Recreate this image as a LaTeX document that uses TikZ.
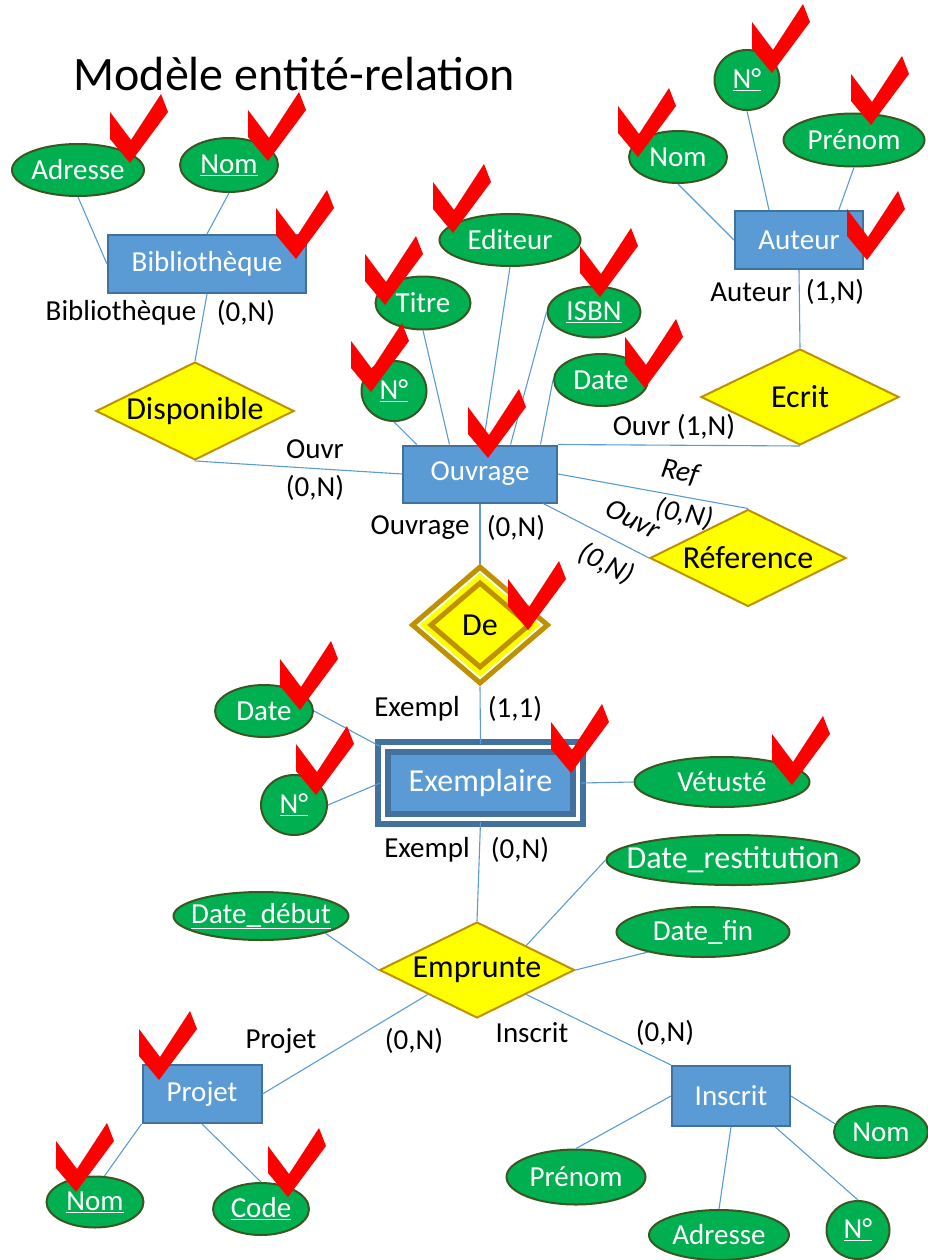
\documentclass[tikz,border=0pt]{standalone}
\usepackage{fontspec}
\setmainfont{Carlito}
\usepackage{tikz}
\usetikzlibrary{shapes.geometric}
\definecolor{entblue}{RGB}{91,155,213}
\definecolor{entframe}{RGB}{65,113,156}
\definecolor{attgreen}{RGB}{0,176,80}
\definecolor{attframe}{RGB}{56,87,35}
\definecolor{relyellow}{RGB}{255,255,0}
\definecolor{relframe}{RGB}{191,144,0}
\definecolor{linkblue}{RGB}{91,155,213}
\definecolor{tickred}{RGB}{255,0,0}
\newcommand{\erfont}{\fontsize{29}{34}\selectfont}
\newcommand{\bigerfont}{\fontsize{32}{38}\selectfont}
\tikzset{
  sz/.style 2 args={minimum width=#1pt, minimum height=#2pt},
  entity/.style={rectangle, draw=entframe, fill=entblue, text=white,
    line width=2pt, inner sep=0pt, font=\erfont},
  attr/.style={ellipse, draw=attframe, fill=attgreen, text=white,
    line width=2pt, inner xsep=-15pt, inner ysep=0pt, font=\erfont},
  rel/.style={diamond, draw=relframe, fill=relyellow, aspect=2,
    line width=2pt, inner sep=-6pt, font=\bigerfont},
  card/.style={inner sep=0pt, font=\erfont},
  rotcard/.style={inner sep=0pt, font=\erfont\itshape},
  link/.style={draw=linkblue, line width=1.1pt},
  checkmark/.pic={\fill[tickred] (-20,-51) -- (1,-23) -- (31,-69) -- (38,-51) -- (0,0) -- (-20,-24) -- cycle;}
}

\begin{document}
\begin{tikzpicture}[x=1pt, y=-1pt,
  weakent/.style={rectangle, draw=entframe, double=white, double distance=4pt,
    line width=6pt, fill=entblue, text=white, inner sep=0pt, font=\bigerfont},
  weakrel/.style={diamond, draw=relframe, line width=5pt, inner sep=0pt, aspect=1.15}
]
  \useasboundingbox (0,0) rectangle (928,1260);

  % Title
  \node[anchor=base west, font=\fontsize{48}{56}\selectfont] (title) at (70,91) {Modèle entité-relation};

  % Bibliotheque
  \node[entity, sz={198}{58}] (bib) at (207,264) {Bibliothèque};
  \node[attr, sz={132}{52}] (adr) at (78,170) {Adresse};
  \node[attr, sz={98}{54}] (bnom) at (229,165) {\underline{Nom}};
  \node[rel, sz={198}{98}] (dispo) at (195,411) {Disponible};

  % Ouvrage
  \node[entity, sz={154}{57}] (ouv) at (480,474) {Ouvrage};
  \node[attr, sz={65}{60}] (onum) at (394,391) {\underline{N°}};
  \node[attr, sz={95}{53}] (titre) at (423,303) {Titre};
  \node[attr, sz={141}{52}] (edit) at (510,240) {Editeur};
  \node[attr, sz={93}{51}] (isbn) at (594,312) {\underline{ISBN}};
  \node[attr, sz={94}{52}] (odate) at (601,380) {Date};

  % Auteur
  \node[entity, sz={128}{58}] (aut) at (799,240) {Auteur};
  \node[attr, sz={65}{60}] (anum) at (747,80) {\underline{N°}};
  \node[attr, sz={98}{52}] (anom) at (678,157) {Nom};
  \node[attr, sz={141}{53}] (apren) at (854,140) {Prénom};
  \node[rel, sz={198}{96}] (ecrit) at (800,397) {Ecrit};
  \node[rel, sz={196}{97}] (refer) at (748,558) {Réference};

  % De
  \node[weakrel, fill=white, sz={137}{118}] (de) at (480,625) {};
  \node[diamond, fill=relyellow, inner sep=0pt, sz={121}{104}] (demid) at (480,625) {};
  \node[weakrel, fill=relyellow, sz={100}{86}, font=\bigerfont, inner sep=-6pt] (dein) at (480,625) {De};

  % Exemplaire
  \node[weakent, sz={195}{72}] (exe) at (480.5,783) {Exemplaire};
  \node[attr, sz={98}{52}] (edate) at (264,711) {Date};
  \node[attr, sz={66}{60}] (enum) at (294,805) {\underline{N°}};
  \node[attr, sz={175}{50}] (vet) at (722,782) {Vétusté};

  % Emprunte
  \node[rel, sz={195}{96}] (emp) at (477,970) {Emprunte};
  \node[attr, sz={253}{50}, font=\bigerfont, inner xsep=-25pt] (drest) at (733,860) {Date\_restitution};
  \node[attr, sz={175}{48}] (ddeb) at (261,916) {\underline{Date\_début}};
  \node[attr, sz={173}{50}] (dfin) at (703,932) {Date\_fin};

  % Projet
  \node[entity, sz={119}{58}] (proj) at (202,1094) {Projet};
  \node[attr, sz={97}{51}] (pnom) at (95,1202) {\underline{Nom}};
  \node[attr, sz={96}{52}] (code) at (261,1209) {\underline{Code}};

  % Inscrit
  \node[entity, sz={118}{60}] (insc) at (731,1096) {Inscrit};
  \node[attr, sz={139}{55}] (ipren) at (576,1177) {Prénom};
  \node[attr, sz={140}{50}] (iadr) at (719,1235) {Adresse};
  \node[attr, sz={63}{58}] (inum) at (858,1230) {\underline{N°}};
  \node[attr, sz={94}{52}] (inom) at (881,1132) {Nom};

  % Links
  \draw[link] (adr.south) -- (bib.west);
  \draw[link] (bnom.south) -- (bib.north);
  \draw[link] (bib.south) -- (dispo.north);
  \draw[link] (dispo.south) -- (ouv.west);
  \draw[link] (onum.south) -- (ouv.155);
  \draw[link] (titre.south) -- (ouv.136);
  \draw[link] (edit.south) -- (ouv.84);
  \draw[link] (isbn.west) -- (ouv.44);
  \draw[link] (odate.west) -- (ouv.26);
  \draw[link] (anum.south) -- (aut.135);
  \draw[link] (anom.south) -- (aut.west);
  \draw[link] (apren.south) -- (aut.37);
  \draw[link] (aut.south) -- (ecrit.north);
  \draw[link] (ouv.north east) -- (ecrit.south);
  \draw[link] (ouv.east) -- (refer.north);
  \draw[link] (ouv.-25) -- (refer.west);
  \draw[link] (ouv.south) -- (de.north);
  \draw[link] (de.south) -- (exe.north);
  \draw[link] (edate.east) -- (exe.160);
  \draw[link] (enum.east) -- (exe.west);
  \draw[link] (vet.west) -- (exe.east);
  \draw[link] (exe.south) -- (emp.north);
  \draw[link] (ddeb.-15) -- (emp.west);
  \draw[link] (drest.west) -- (emp.north east);
  \draw[link] (dfin.200) -- (emp.east);
  \draw[link] (emp.south west) -- (proj.east);
  \draw[link] (emp.south east) -- (insc.north west);
  \draw[link] (proj.south west) -- (pnom.70);
  \draw[link] (proj.south) -- (code.north);
  \draw[link] (insc.west) -- (ipren.north);
  \draw[link] (insc.south) -- (iadr.north);
  \draw[link] (insc.-35) -- (inum.north);
  \draw[link] (insc.east) -- (inom.170);

  % Cardinalities
  \node[card] (lbib) at (121,313) {Bibliothèque};
  \node[card] (lbibc) at (246,313) {(0,N)};
  \node[card] (ldisp) at (315,449) {Ouvr};
  \node[card] (ldispc) at (315,488) {(0,N)};
  \node[card] (laut) at (751,292) {Auteur};
  \node[card] (lautc) at (835,292) {(1,N)};
  \node[card] (lecr) at (674,427) {Ouvr (1,N)};
  \node[rotcard, rotate=-12] (lref) at (680,472) {Ref};
  \node[rotcard, rotate=-12] (lrefc) at (684,514) {(0,N)};
  \node[rotcard, rotate=-27] (lrefo) at (633,519) {Ouvr};
  \node[rotcard, rotate=-27] (lrefoc) at (606,564) {(0,N)};
  \node[card] (lde) at (420,528) {Ouvrage};
  \node[card] (ldec) at (516,528) {(0,N)};
  \node[card] (lexe) at (417,709) {Exempl};
  \node[card] (lexec) at (515,709) {(1,1)};
  \node[card] (lemp) at (427,850) {Exempl};
  \node[card] (lempc) at (520,850) {(0,N)};
  \node[card] (lproj) at (281,1041) {Projet};
  \node[card] (lprojc) at (414,1041) {(0,N)};
  \node[card] (lins) at (532,1033) {Inscrit};
  \node[card] (linsc) at (665,1033) {(0,N)};

  % Check marks
  \foreach \tx/\ty in {130/163, 268/161, 296/259, 385/305, 453/233, 600/297,
      371/392, 645/388, 488/458, 772/73, 871/125, 638/157, 867/260,
      528/630, 571/773, 300/710, 316/795, 792/785, 159/1080, 76/1192, 288/1197}
    \pic at (\tx,\ty) {checkmark};
\end{tikzpicture}
\end{document}
